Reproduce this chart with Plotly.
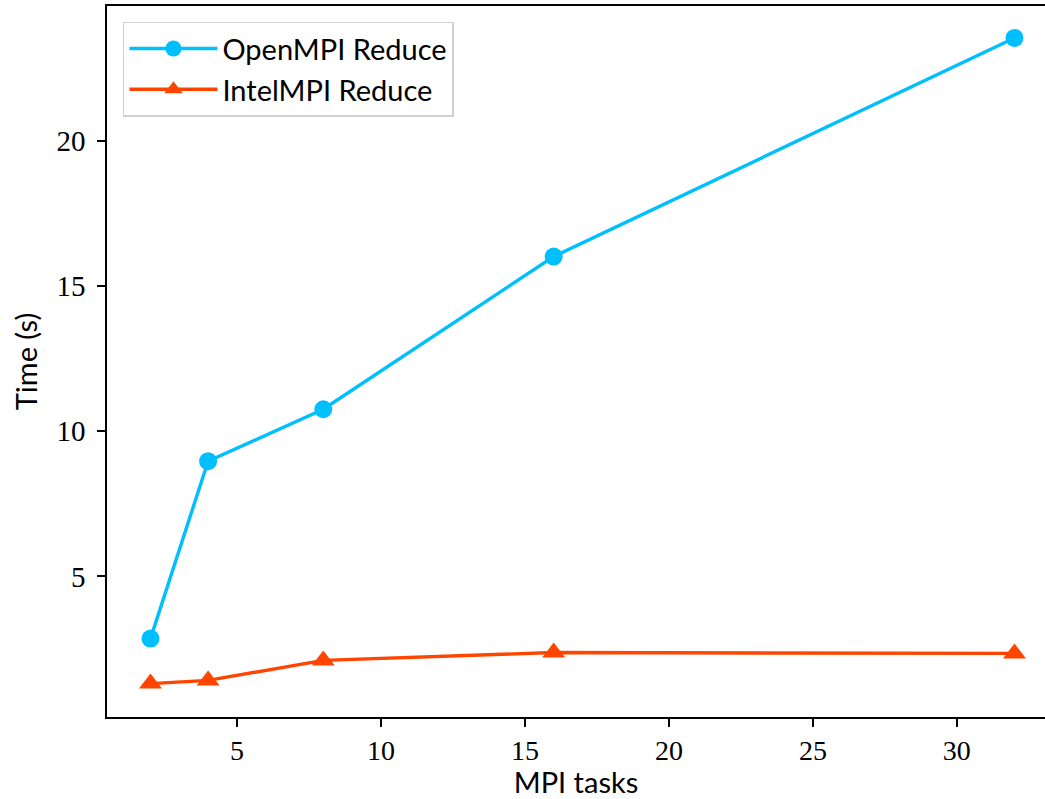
import plotly.graph_objects as go

tasks = [2, 4, 8, 16, 32]
openmpi_reduce = [2.86, 8.97, 10.76, 16.02, 23.55]
intelmpi_reduce = [1.31, 1.42, 2.11, 2.38, 2.35]

x_ticks = [5, 10, 15, 20, 25, 30]
y_ticks = [5, 10, 15, 20]

SANS = "Lato, 'DejaVu Sans', sans-serif"
SERIF = "'Liberation Serif', 'DejaVu Serif', serif"

fig = go.Figure()
fig.add_trace(go.Scatter(
    x=tasks, y=openmpi_reduce, mode="lines+markers", name="OpenMPI Reduce",
    line=dict(color="#00BFFF", width=3.4),
    marker=dict(symbol="circle", size=18, color="#00BFFF"),
))
fig.add_trace(go.Scatter(
    x=tasks, y=intelmpi_reduce, mode="lines+markers", name="IntelMPI Reduce",
    line=dict(color="#FF4500", width=3.4),
    marker=dict(symbol="triangle-up", size=20, color="#FF4500"),
))

fig.update_layout(
    width=1045, height=799,
    margin=dict(l=107, r=0, t=6, b=82),
    paper_bgcolor="white", plot_bgcolor="white",
    showlegend=True,
    legend=dict(
        x=0.017, y=0.978, xanchor="left", yanchor="top",
        bgcolor="rgba(255,255,255,0.8)", bordercolor="#d0d0d0", borderwidth=1.5,
        font=dict(family=SANS, size=29, color="black"),
        itemsizing="trace", itemwidth=88, tracegroupgap=0,
    ),
)
fig.update_xaxes(
    range=[0.49, 33.06], tickvals=x_ticks, ticktext=[str(v) for v in x_ticks],
    showgrid=False, zeroline=False,
    showline=True, linecolor="black", linewidth=1.6, mirror=True,
    ticks="outside", ticklen=8, tickwidth=1.6, tickcolor="black",
    tickfont=dict(family=SERIF, size=28, color="black"),
    title=dict(text="MPI tasks", font=dict(family=SANS, size=29, color="black"), standoff=12),
)
fig.update_yaxes(
    range=[0.16, 24.65], tickvals=y_ticks, ticktext=[str(v) for v in y_ticks],
    showgrid=False, zeroline=False,
    showline=True, linecolor="black", linewidth=1.6, mirror=False,
    ticks="outside", ticklen=8, tickwidth=1.6, tickcolor="black",
    tickfont=dict(family=SERIF, size=29, color="black"),
    ticklabelstandoff=6,
    title=dict(text="Time (s)", font=dict(family=SANS, size=29, color="black"), standoff=10),
)

fig.write_html("out.html")
